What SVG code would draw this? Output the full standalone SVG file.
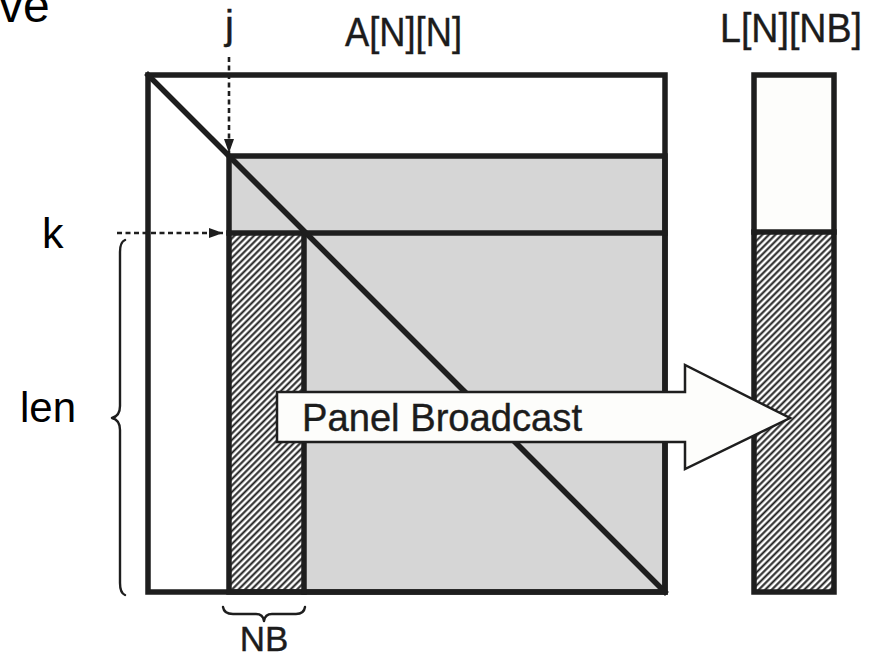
<svg xmlns="http://www.w3.org/2000/svg" width="881" height="659" viewBox="0 0 881 659">
  <style>
    .frame { fill: none; stroke: #1e1e1e; stroke-width: 5.5; stroke-linejoin: miter; stroke-linecap: square; }
    .label { font-family: "Liberation Sans", Arial, Helvetica, sans-serif; fill: #1c1c1c; stroke: #1c1c1c; stroke-width: 0.4; }
    .slide { font-family: "Liberation Sans", Arial, Helvetica, sans-serif; fill: #000; }
    .dash { fill: none; stroke: #1e1e1e; stroke-width: 2.6; stroke-dasharray: 5 3.5; }
    .brace { fill: none; stroke: #1e1e1e; stroke-width: 2.4; stroke-linecap: round; stroke-linejoin: round; }
  </style>
  <defs>
    <pattern id="hatch" patternUnits="userSpaceOnUse" width="4.6" height="4.6" patternTransform="rotate(45)">
      <rect width="4.6" height="4.6" fill="#ffffff"/>
      <line x1="1.3" y1="0" x2="1.3" y2="4.6" stroke="#1e1e1e" stroke-width="2"/>
    </pattern>
    <marker id="tip" viewBox="0 0 14 10" refX="14" refY="5" markerWidth="14" markerHeight="10" markerUnits="userSpaceOnUse" orient="auto">
      <path d="M0,0 L14,5 L0,10 Z" fill="#1e1e1e"/>
    </marker>
  </defs>
  <rect width="881" height="659" fill="#ffffff"/>

  <!-- slide text cut off at the top edge -->
  <text class="slide" x="-1" y="22" font-size="48">ve</text>

  <!-- matrix A[N][N] -->
  <g id="matrix-a">
    <rect x="148" y="75" width="517" height="517" fill="#ffffff"/>
    <rect x="229" y="156" width="436" height="436" fill="#d6d6d6"/>
    <rect x="229" y="233" width="75" height="359" fill="url(#hatch)"/>
    <rect class="frame" x="148" y="75" width="517" height="517"/>
    <rect class="frame" x="229" y="156" width="436" height="436"/>
    <line class="frame" x1="229" y1="233" x2="665" y2="233"/>
    <line class="frame" x1="304" y1="233" x2="304" y2="592"/>
    <line class="frame" x1="148" y1="75" x2="665" y2="592" stroke-linecap="butt"/>
  </g>

  <!-- panel buffer L[N][NB] -->
  <g id="panel-l">
    <rect x="754" y="75" width="80" height="517" fill="#fdfdfb"/>
    <rect x="754" y="232" width="80" height="360" fill="url(#hatch)"/>
    <rect class="frame" x="754" y="75" width="80" height="517"/>
    <line class="frame" x1="754" y1="232" x2="834" y2="232"/>
  </g>

  <!-- broadcast arrow -->
  <g id="panel-broadcast">
    <polygon points="277,392 685,392 685,365 790,418 685,469 685,442 277,442" fill="#fdfdfb" stroke="#1e1e1e" stroke-width="2.5" stroke-linejoin="miter"/>
    <text class="label" x="302" y="431" font-size="38" textLength="280" lengthAdjust="spacingAndGlyphs">Panel Broadcast</text>
  </g>

  <!-- index pointers and extents -->
  <g id="connectors">
    <line class="dash" x1="229" y1="57" x2="229" y2="153" marker-end="url(#tip)"/>
    <line class="dash" x1="117" y1="233" x2="223" y2="233" marker-end="url(#tip)"/>
    <path class="brace" d="M125,240 Q120,242 120,252 L120,406 Q120,416 112,418 Q120,420 120,430 L120,583 Q120,593 125,595"/>
    <path class="brace" d="M223,607 Q224,614 233,614 L256,614 Q263,614 264,621 Q265,614 272,614 L296,614 Q304,614 305,607"/>
  </g>

  <!-- labels -->
  <g id="labels">
    <text class="label" x="225" y="39" font-size="40">j</text>
    <text class="label" x="345" y="46" font-size="40" textLength="117" lengthAdjust="spacingAndGlyphs">A[N][N]</text>
    <text class="label" x="720" y="42" font-size="40" textLength="142" lengthAdjust="spacingAndGlyphs">L[N][NB]</text>
    <text class="label" x="264" y="651" font-size="35" text-anchor="middle">NB</text>
    <text class="slide" x="42" y="248" font-size="43">k</text>
    <text class="slide" x="20" y="422" font-size="42">len</text>
  </g>
</svg>
